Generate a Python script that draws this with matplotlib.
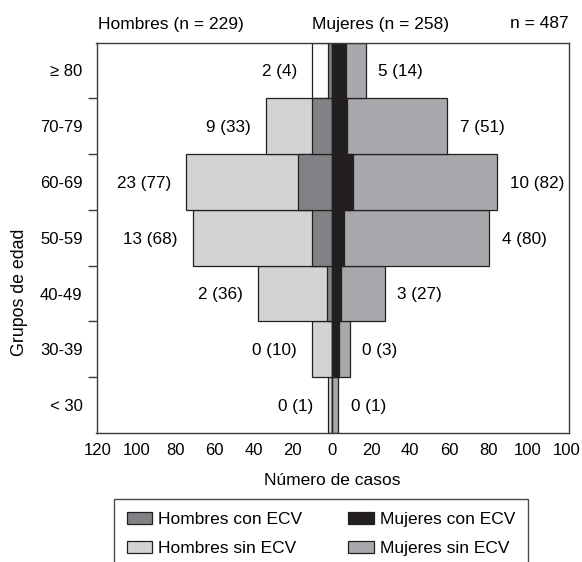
import numpy as np
import matplotlib
matplotlib.use('Agg')
import matplotlib.pyplot as plt

plt.rcParams['font.family'] = ['Liberation Sans', 'DejaVu Sans']

# grupos de edad, de abajo hacia arriba
grupos = ['< 30', '30-39', '40-49', '50-59', '60-69', '70-79', '\u2265 80']

# longitudes de barra (numero de casos)
hombres_con = [0, 0, 2.5, 10, 17.5, 10, 2.2]
hombres_total = [2, 10, 38, 71, 74.5, 34, 10]
mujeres_con = [0, 3.5, 4.5, 6, 11, 7.8, 7.4]
mujeres_total = [3.2, 9, 27, 80.5, 84.5, 59, 17.2]

etiq_hombres = ['0 (1)', '0 (10)', '2 (36)', '13 (68)', '23 (77)', '9 (33)', '2 (4)']
etiq_mujeres = ['0 (1)', '0 (3)', '3 (27)', '4 (80)', '10 (82)', '7 (51)', '5 (14)']

xticks = [-120, -100, -80, -60, -40, -20, 0, 20, 40, 60, 80, 100, 120]
xticklabels = ['120', '100', '80', '60', '40', '20', '0', '20', '40', '60', '80', '100', '100']

c_hcon = '#808285'
c_hsin = '#d1d3d4'
c_mcon = '#231f20'
c_msin = '#a7a9ac'
borde = '#231f20'

fig = plt.figure(figsize=(5.82, 5.62), dpi=100)
ax = fig.add_axes([96.5/582, 1-433/562, (569-96.5)/582, (433-42.5)/562])

y = np.arange(len(grupos))
col_hsin = [c_hsin]*(len(grupos)-1) + ['white']  # la barra de >=80 sale sin relleno

ax.barh(y, -np.array(hombres_total), height=1, color=col_hsin, edgecolor=borde, linewidth=0.9,
        label='Hombres sin ECV')
ax.barh(y, -np.array(hombres_con), height=1, color=c_hcon, edgecolor=borde, linewidth=0.9,
        label='Hombres con ECV')
ax.barh(y, mujeres_total, height=1, color=c_msin, edgecolor=borde, linewidth=0.9,
        label='Mujeres sin ECV')
ax.barh(y, mujeres_con, height=1, color=c_mcon, edgecolor=borde, linewidth=0.9,
        label='Mujeres con ECV')

for i in range(len(grupos)):
    ax.annotate(etiq_hombres[i], (-hombres_total[i], y[i]), xytext=(-11, -1),
                textcoords='offset points', ha='right', va='center', fontsize=12.3)
    ax.annotate(etiq_mujeres[i], (mujeres_total[i], y[i]), xytext=(9, -1),
                textcoords='offset points', ha='left', va='center', fontsize=12.3)

ax.set_xlim(-120.5, 121.3)
ax.set_ylim(-0.5, len(grupos)-0.5)
ax.set_xticks(xticks)
ax.set_xticklabels(xticklabels)
ax.set_yticks(y)
ax.set_yticklabels(grupos)
ax.set_yticks(np.arange(0.5, len(grupos)-0.5), minor=True)
ax.tick_params(axis='x', length=0, pad=7, labelsize=12)
ax.tick_params(axis='y', which='major', length=0, pad=10, labelsize=12)
ax.tick_params(axis='y', which='minor', length=6.7, width=1, color='#3a3a3a', direction='out')
for s in ax.spines.values():
    s.set_color('#3a3a3a')
    s.set_linewidth(1)

ax.set_xlabel('Número de casos', fontsize=12.5, labelpad=11)
fig.text(20/582, 1-292/562, 'Grupos de edad', rotation=90, ha='center', va='center', fontsize=12.8)

fig.text(98/582, 1-24/562, 'Hombres (n = 229)', ha='left', va='center', fontsize=12.5)
fig.text(312.5/582, 1-24/562, 'Mujeres (n = 258)', ha='left', va='center', fontsize=12.5)
fig.text(569/582, 1-24/562, 'n = 487', ha='right', va='center', fontsize=12.5)

h, l = ax.get_legend_handles_labels()
orden = [1, 0, 3, 2]
leg = ax.legend([h[k] for k in orden], [l[k] for k in orden], ncol=2, loc='upper left',
                bbox_to_anchor=(114/582, 1-499/562), bbox_transform=fig.transFigure,
                borderaxespad=0, fontsize=12.5, frameon=True, fancybox=False,
                edgecolor=borde, handlelength=1.45, handleheight=0.7, handletextpad=0.35,
                columnspacing=2.65, labelspacing=0.8, borderpad=0.75)
leg.get_frame().set_linewidth(1)

fig.savefig('out.png', dpi=100)
